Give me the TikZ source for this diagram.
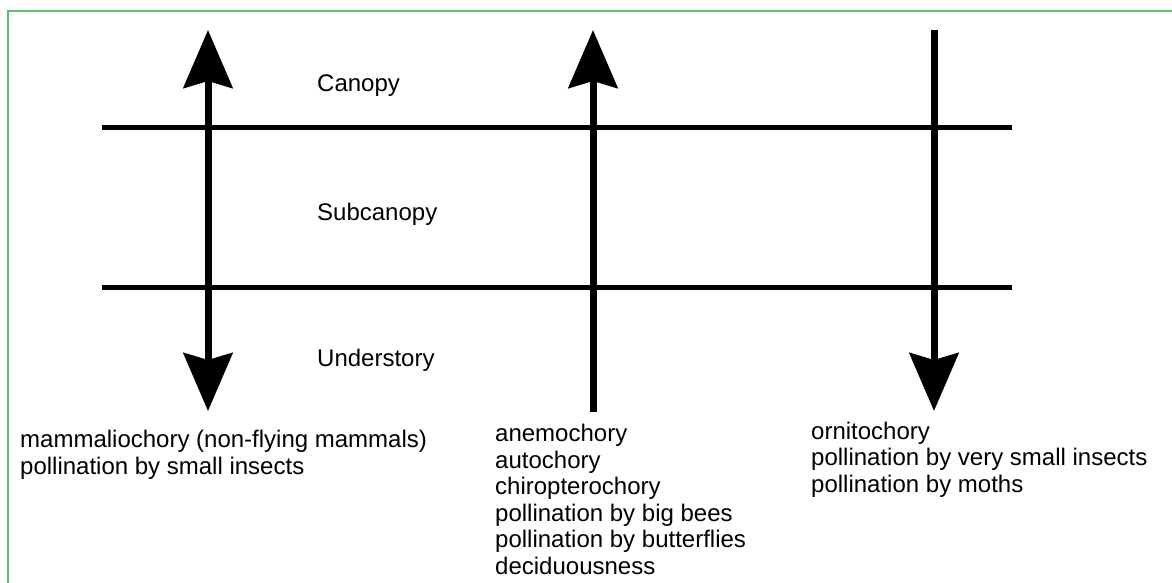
\documentclass[tikz,border=0pt]{standalone}
\usepackage{fontspec}
\setmainfont{Liberation Sans}
\usetikzlibrary{arrows.meta}
\definecolor{framegreen}{RGB}{92,188,112}

\begin{document}
\begin{tikzpicture}[x=1pt,y=-1pt,
  font=\fontsize{24}{26.5}\selectfont,
  layer/.style={line width=5pt},
  shaft/.style={line width=7pt},
  bigtip/.tip={Stealth[length=58pt,width=49pt,inset=7pt]},
  levellabel/.style={anchor=base west,inner sep=0pt},
  traitlist/.style={anchor=base west,inner sep=0pt,align=left}]
  \useasboundingbox (0,0) rectangle (1172,583);

  % the frame (only top and left edge show)
  \draw[framegreen, line width=1.5pt] (8,583) -- (8,11) -- (1172,11);

  % the two layer boundaries
  \draw[layer] (102,128) -- (1012,128);
  \draw[layer] (102,287) -- (1012,287);

  % the three arrows
  \coordinate (mtop) at (208,30);
  \coordinate (mbot) at (208,411);
  \coordinate (atop) at (593,30);
  \coordinate (abot) at (593,412);
  \coordinate (otop) at (934,30);
  \coordinate (obot) at (934,411);

  \draw[shaft, bigtip-bigtip] (mbot) -- (mtop);
  \draw[shaft, -bigtip] (abot) -- (atop);
  \draw[shaft, -bigtip] (otop) -- (obot);

  % layer names
  \node[levellabel] (canopy) at (317,92) {Canopy};
  \node[levellabel] (subcanopy) at (317,220) {Subcanopy};
  \node[levellabel] (understory) at (317,366) {Understory};

  % what goes with each arrow (base = last line)
  \node[traitlist] (mammal) at (20,474) {mammaliochory (non-flying mammals)\\pollination by small insects};
  \node[traitlist] (anemo) at (495,574) {anemochory\\autochory\\chiropterochory\\pollination by big bees\\pollination by butterflies\\deciduousness};
  \node[traitlist] (ornito) at (811,492) {ornitochory\\pollination by very small insects\\pollination by moths};
\end{tikzpicture}
\end{document}
